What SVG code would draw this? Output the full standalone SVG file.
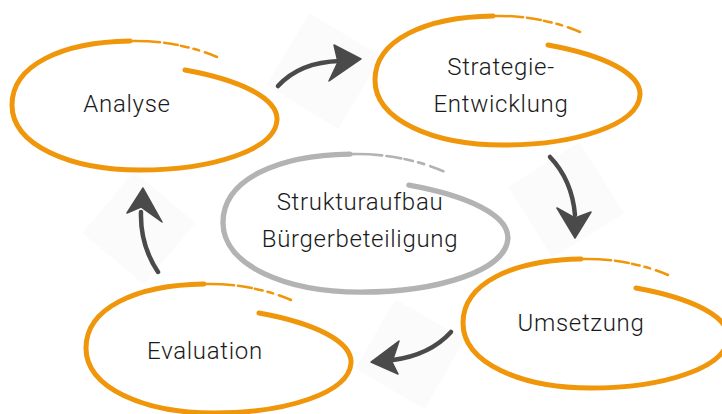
<svg xmlns="http://www.w3.org/2000/svg" width="722" height="414" viewBox="0 0 722 414">
<style>
.txt{font-family:Roboto,"Liberation Sans",sans-serif;font-weight:300;font-size:24px;letter-spacing:0.7px;fill:#1a1a1a;text-anchor:middle}
.ring{fill:none;stroke-linecap:round}
.main{stroke-width:5}
.tail{stroke-width:2.5;stroke-dasharray:30 4 14 3 8 5 6 6}
.org{stroke:#f0960a}
.gry{stroke:#b3b3b3}
.bg{fill:#fbfbfb}
.shaft{fill:none;stroke:#4a4a4a;stroke-width:4.5;stroke-linecap:round}
.head{fill:#4a4a4a;stroke:#4a4a4a;stroke-width:1.5;stroke-linejoin:round}
</style>
<defs>
<path id="ringMain" d="M173,30 C228,40 266,58 265,80 C263,110 200,130 128,130 C58,130 0,105 0,65 C0,25 50,2 118,1"/>
<path id="ringTail" d="M118,1 C150,0 182,7 205,17"/>
</defs>
<g id="connectors">
<g id="arrow-analyse-strategie">
<rect class="bg" x="-42" y="-42" width="84" height="84" transform="translate(324,71) rotate(31)"/>
<path class="shaft" d="M278,86 Q300,62 340,61"/>
<path class="head" d="M361,59 L334,45 L338,62 L329,81 Z"/>
</g>
<g id="arrow-strategie-umsetzung">
<rect class="bg" x="-42" y="-42" width="84" height="84" transform="translate(566,200) rotate(-32)"/>
<path class="shaft" d="M550,157 Q572,180 575,215"/>
<path class="head" d="M575,238 L557,208 L575,218 L591,212 Z"/>
</g>
<g id="arrow-umsetzung-evaluation">
<rect class="bg" x="-40" y="-40" width="80" height="80" transform="translate(410,354) rotate(30)"/>
<path class="shaft" d="M451,332 Q430,355 393,360"/>
<path class="head" d="M371,362 L399,341 L392,362 L398,374 Z"/>
</g>
<g id="arrow-evaluation-analyse">
<rect class="bg" x="-40" y="-40" width="80" height="80" transform="translate(139,228) rotate(40)"/>
<path class="shaft" d="M158,272 Q140,245 141,212"/>
<path class="head" d="M143,188 L127,213 L141,207 L162,222 Z"/>
</g>
</g>
<g id="node-analyse">
<g transform="translate(12,40)"><use href="#ringMain" class="ring main org"/><use href="#ringTail" class="ring tail org"/></g>
<text class="txt" x="127" y="112">Analyse</text>
</g>
<g id="node-strategie">
<g transform="translate(375,15)"><use href="#ringMain" class="ring main org"/><use href="#ringTail" class="ring tail org"/></g>
<text class="txt" x="501" y="75">Strategie-</text>
<text class="txt" x="501" y="112">Entwicklung</text>
</g>
<g id="node-struktur">
<g transform="translate(223,153) scale(1.075,1.07)"><use href="#ringMain" class="ring main gry"/><use href="#ringTail" class="ring tail gry"/></g>
<text class="txt" x="360" y="210">Strukturaufbau</text>
<text class="txt" x="360" y="247">Bürgerbeteiligung</text>
</g>
<g id="node-umsetzung">
<g transform="translate(463,258)"><use href="#ringMain" class="ring main org"/><use href="#ringTail" class="ring tail org"/></g>
<text class="txt" x="581" y="331">Umsetzung</text>
</g>
<g id="node-evaluation">
<g transform="translate(86,283)"><use href="#ringMain" class="ring main org"/><use href="#ringTail" class="ring tail org"/></g>
<text class="txt" x="205" y="359">Evaluation</text>
</g>
</svg>
